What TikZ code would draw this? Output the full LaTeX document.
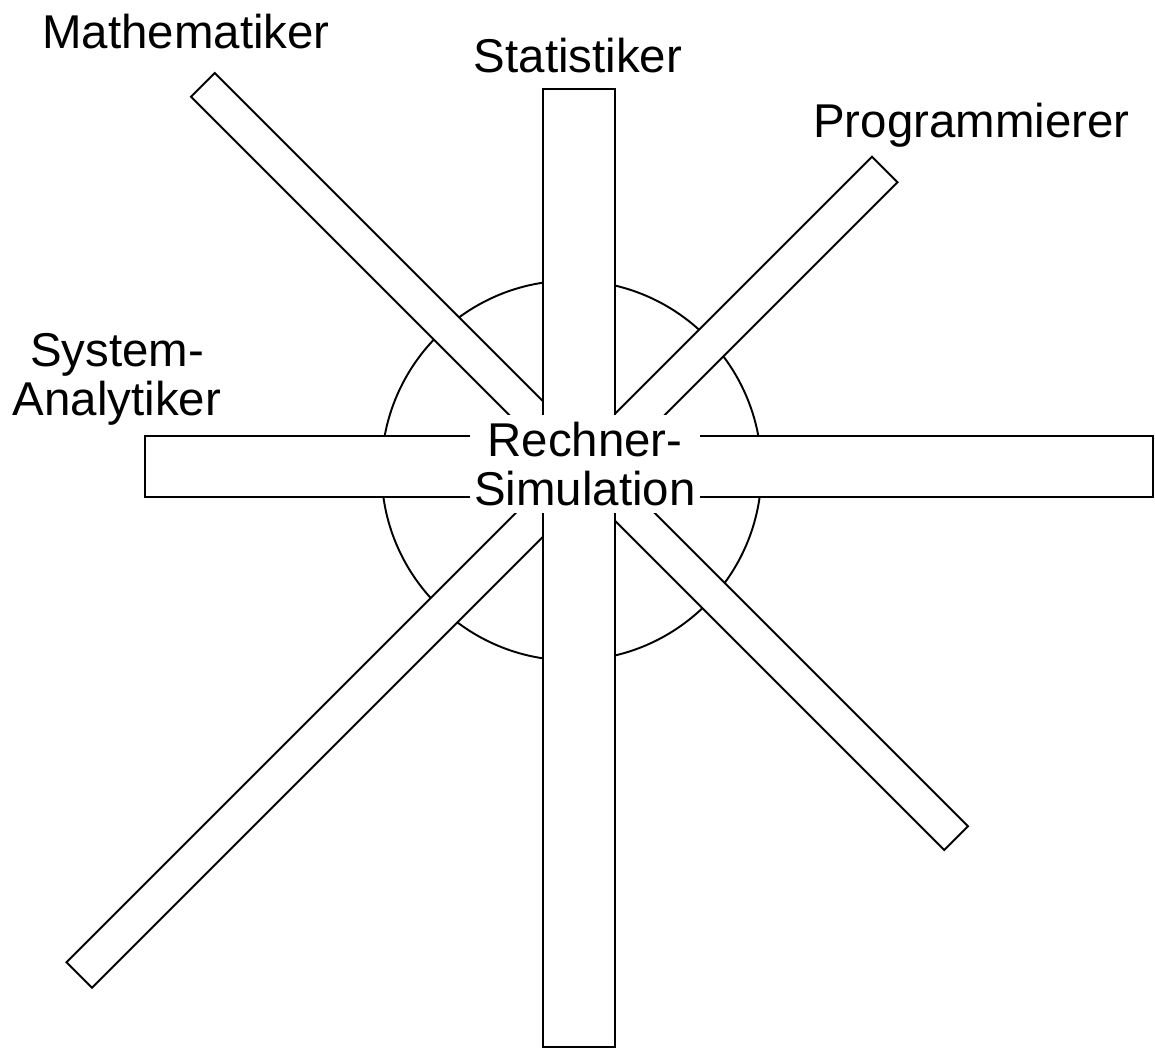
\documentclass[tikz,border=0pt]{standalone}
\usepackage{fontspec}
\setmainfont{Liberation Sans}
\usepackage{tikz}

\begin{document}
\begin{tikzpicture}[x=0.02cm, y=-0.02cm,
        bar/.style={draw, fill=white, line width=1.1pt, inner sep=0pt, outer sep=0pt},
        lbl/.style={font=\fontsize{27}{27.5}\selectfont, align=center, inner sep=0pt}]
        \useasboundingbox (0,0) rectangle (1155,1048);

        % Ring
        \node[circle, draw, line width=1.1pt, minimum size=7.6cm, inner sep=0pt] (ring) at (571.5,470.5) {};

        % Bars
        \node[bar, rotate=-45, minimum width=21.31cm, minimum height=0.67cm] (diagA) at (579.5,461.5) {};
        \node[bar, rotate=45, minimum width=22.79cm, minimum height=0.72cm] (diagB) at (482,572.25) {};
        \node[bar, minimum width=1.44cm, minimum height=19.16cm] (vert) at (579,568) {};
        \node[bar, minimum width=20.16cm, minimum height=1.22cm] (horiz) at (649,466.5) {};

        % Labels
        \node[lbl, fill=white, minimum width=4.6cm, minimum height=1.96cm] (sim) at (585,464) {Rechner-\\Simulation};
        \node[lbl, anchor=base] (mathe) at (186,48) {Mathematiker};
        \node[lbl, anchor=base] (stat) at (578,72) {Statistiker};
        \node[lbl, anchor=base] (prog) at (971.5,137) {Programmierer};
        \node[lbl, anchor=base] (sysana) at (117,415) {System-\\Analytiker};
\end{tikzpicture}
\end{document}
